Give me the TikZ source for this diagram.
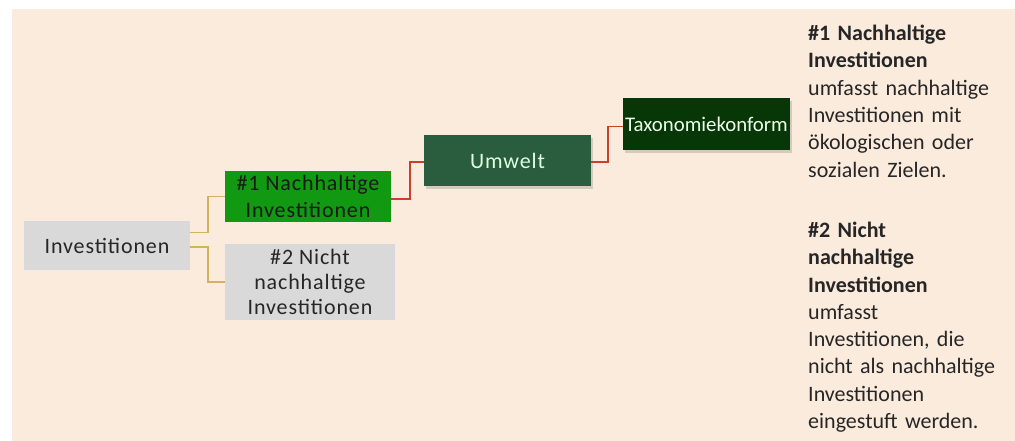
\documentclass[tikz,border=0pt]{standalone}
\usepackage{fontspec}
\usepackage{xcolor}
\usepackage{tikz}
\usetikzlibrary{shadows}
\setmainfont{Carlito}
\newfontfamily\boxfont[LetterSpace=4]{Carlito}
\definecolor{peach}{HTML}{FBEBDD}
\definecolor{boxgray}{HTML}{D9D9D9}
\definecolor{brightgreen}{HTML}{119A11}
\definecolor{midgreen}{HTML}{2A5C3E}
\definecolor{deepgreen}{HTML}{073607}
\definecolor{tanline}{HTML}{D2B25E}
\definecolor{redline}{HTML}{C8412B}

\begin{document}
\begin{tikzpicture}[x=1pt, y=1pt,
    box/.style={inner sep=0pt, align=center, font=\boxfont\fontsize{22}{25}\selectfont},
    graybox/.style={box, fill=boxgray, text=black!85},
    shadowbox/.style={box, drop shadow={shadow xshift=1.5pt, shadow yshift=-3pt, opacity=0.3}},
    tanlink/.style={draw=tanline, line width=1.8pt},
    redlink/.style={draw=redline, line width=1.8pt}]
    \useasboundingbox (0,0) rectangle (1015,441);
    \fill[peach] (12,0) rectangle (1015,432);

    \node[graybox, minimum width=166pt, minimum height=49pt] (inv) at (107,195.5) {Investitionen};
    \node[box, fill=brightgreen, text=black!90, minimum width=166pt, minimum height=51pt,
          font=\boxfont\fontsize{22}{27}\selectfont] (nachh) at (308,244.5) {\#1 Nachhaltige\\Investitionen};
    \node[graybox, minimum width=170pt, minimum height=76pt] (nicht) at (310,159) {\#2 Nicht\\nachhaltige\\Investitionen};
    \node[shadowbox, fill=midgreen, text=white!88!green, minimum width=167pt, minimum height=51pt] (umwelt) at (507.5,280.5) {Umwelt};
    \node[shadowbox, fill=deepgreen, text=white!92!green, minimum width=167pt, minimum height=52pt,
          font=\fontsize{20.8}{25}\selectfont] (taxo) at (706.5,317) {Taxonomiekonform};

    \draw[tanlink] ([yshift=13pt]inv.east) -- ++(18,0) |- (nachh.west);
    \draw[tanlink] ([yshift=-1.5pt]inv.east) -- ++(18,0) |- (nicht.west);
    \draw[redlink] ([yshift=-2.5pt]nachh.east) -- ++(19,0) |- ([yshift=-1.5pt]umwelt.west);
    \draw[redlink] ([yshift=-1.5pt]umwelt.east) -- ++(17,0) |- ([yshift=-2.5pt]taxo.west);

    \node[anchor=north west, inner sep=0pt, text width=207pt, align=left,
          font=\fontsize{22}{27.3}\selectfont, text=black!85] (legend) at (808,416) {%
      \textbf{\#1 Nachhaltige}\\
      \textbf{Investitionen}\\
      umfasst nachhaltige\\
      Investitionen mit\\
      ökologischen oder\\
      sozialen Zielen.\\[33pt]
      \textbf{\#2 Nicht}\\
      \textbf{nachhaltige}\\
      \textbf{Investitionen}\\
      umfasst\\
      Investitionen, die\\
      nicht als nachhaltige\\
      Investitionen\\
      eingestuft werden.};
\end{tikzpicture}
\end{document}
